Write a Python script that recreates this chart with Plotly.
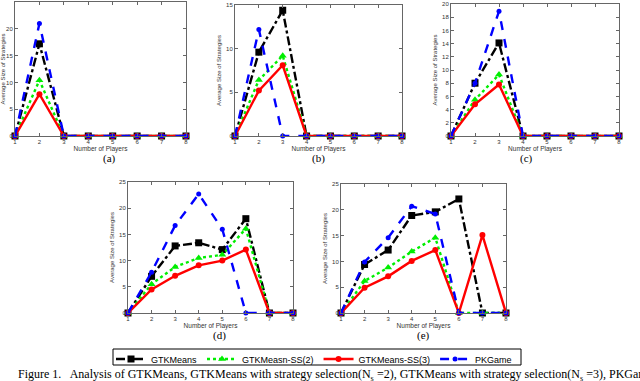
import plotly.graph_objects as go

players = [1, 2, 3, 4, 5, 6, 7, 8]
series_names = ["GTKMeans", "GTKMeasn-SS(2)", "GTKMeans-SS(3)", "PKGame"]

# (a)
a_gtk = [0, 17.2, 0, 0, 0, 0, 0, 0]
a_ss2 = [0, 10.4, 0, 0, 0, 0, 0, 0]
a_ss3 = [0, 7.8, 0, 0, 0, 0, 0, 0]
a_pk = [0, 21.0, 0, 0, 0, 0, 0, 0]
# (b)
b_gtk = [0, 9.6, 14.4, 0, 0, 0, 0, 0]
b_ss2 = [0, 6.4, 9.2, 0, 0, 0, 0, 0]
b_ss3 = [0, 5.2, 8.1, 0, 0, 0, 0, 0]
b_pk = [0, 12.2, 0, 0, 0, 0, 0, 0]
# (c)
c_gtk = [0, 8.0, 14.1, 0, 0, 0, 0, 0]
c_ss2 = [0, 5.5, 9.3, 0, 0, 0, 0, 0]
c_ss3 = [0, 4.8, 7.8, 0, 0, 0, 0, 0]
c_pk = [0, 8.0, 18.9, 0, 0, 0, 0, 0]
# (d)
d_gtk = [0, 7.0, 12.8, 13.4, 12.1, 18.0, 0, 0]
d_ss2 = [0, 5.5, 8.8, 10.5, 11.1, 16.1, 0, 0]
d_ss3 = [0, 4.5, 7.1, 9.1, 10.0, 12.1, 0, 0]
d_pk = [0, 7.8, 16.7, 22.7, 16.0, 0, 0, 0]
# (e)
e_gtk = [0, 9.4, 12.2, 18.9, 19.6, 22.1, 0, 0]
e_ss2 = [0, 6.2, 8.8, 11.9, 14.6, 0, 0, 0]
e_ss3 = [0, 4.9, 7.1, 10.1, 12.2, 0, 15.1, 0]
e_pk = [0, 9.9, 14.6, 20.7, 19.2, 0, 0, 0]

panels = [
    ("(a)", [a_gtk, a_ss2, a_ss3, a_pk], 25, 5),
    ("(b)", [b_gtk, b_ss2, b_ss3, b_pk], 15, 5),
    ("(c)", [c_gtk, c_ss2, c_ss3, c_pk], 20, 2),
    ("(d)", [d_gtk, d_ss2, d_ss3, d_pk], 25, 5),
    ("(e)", [e_gtk, e_ss2, e_ss3, e_pk], 25, 5),
]

W, H = 640, 381
# pixel boxes: (left, right, top, bottom)
boxes = [
    (15, 186, 2, 136),
    (235, 402, 5, 136),
    (451, 619, 4, 136),
    (128, 293, 182, 313),
    (341, 506, 184, 313),
]

styles = [
    dict(color="black", dash="dashdot", symbol="square", msize=7),
    dict(color="#00ee00", dash="dot", symbol="triangle-up", msize=7),
    dict(color="red", dash="solid", symbol="circle", msize=6),
    dict(color="blue", dash="dash", symbol="circle", msize=5),
]

fig = go.Figure()
layout = dict(
    width=W, height=H, margin=dict(l=0, r=0, t=0, b=0),
    paper_bgcolor="white", plot_bgcolor="white", template="none",
    font=dict(family="Liberation Sans, Arial, sans-serif", size=6, color="#333"),
    annotations=[], shapes=[],
)

for i, ((lab, series, ymax, dtick), (l, r, t, b)) in enumerate(zip(panels, boxes)):
    n = "" if i == 0 else str(i + 1)
    xa, ya = "x" + n, "y" + n
    for j, (name, vals) in enumerate(zip(series_names, series)):
        s = styles[j]
        fig.add_trace(go.Scatter(
            x=players, y=vals, name=name, xaxis=xa, yaxis=ya,
            mode="lines+markers", cliponaxis=False,
            line=dict(color=s["color"], dash=s["dash"], width=2.4),
            marker=dict(symbol=s["symbol"], size=s["msize"], color=s["color"]),
            showlegend=(i == 0), legendrank=j,
        ))
    common = dict(showgrid=False, zeroline=False, showline=True, mirror="ticks",
                  linecolor="#666", linewidth=1, ticks="inside", ticklen=3,
                  tickcolor="#666", tickfont=dict(size=6, color="#333"),
                  automargin=False, fixedrange=True)
    layout["xaxis" + n] = dict(
        common, domain=[l / W, r / W], anchor=ya, range=[1, 8], dtick=1,
        title=dict(text="Number of Players", font=dict(size=6.5, color="#333"), standoff=1),
    )
    layout["yaxis" + n] = dict(
        common, domain=[1 - b / H, 1 - t / H], anchor=xa, range=[0, ymax], dtick=dtick,
        title=dict(text="Average Size of Strategies", font=dict(size=6, color="#333"), standoff=4),
    )
    layout["annotations"].append(dict(
        text=lab, xref="paper", yref="paper", x=(l + r) / 2 / W,
        y=1 - (b + 14) / H, yanchor="top", showarrow=False,
        font=dict(family="Liberation Serif, Times New Roman, serif", size=11, color="black"),
    ))

layout["annotations"].append(dict(
    text="Figure 1.\u00a0\u00a0 Analysis of GTKMeans, GTKMeans with strategy selection(N<sub>s</sub> =2), "
         "GTKMeans with strategy selection(N<sub>s</sub> =3), PKGame",
    xref="paper", yref="paper", x=16 / W, y=1 - 365 / H, xanchor="left", yanchor="top",
    showarrow=False,
    font=dict(family="Liberation Serif, Times New Roman, serif", size=12, color="black"),
))

# legend frame
layout["shapes"].append(dict(
    type="rect", xref="paper", yref="paper",
    x0=113 / W, x1=521 / W, y0=1 - 365 / H, y1=1 - 349 / H,
    line=dict(color="black", width=1), fillcolor="white", layer="above",
))

layout["legend"] = dict(
    orientation="h", x=111 / W, y=1 - 344.5 / H, xanchor="left", yanchor="top",
    borderwidth=0, bgcolor="rgba(0,0,0,0)",
    font=dict(family="Liberation Sans, Arial, sans-serif", size=9, color="black"),
    tracegroupgap=0, itemwidth=30,
)

fig.update_layout(**layout)
fig.write_html("out.html", config={"displayModeBar": False},
               post_script="document.body.style.margin='0';")
